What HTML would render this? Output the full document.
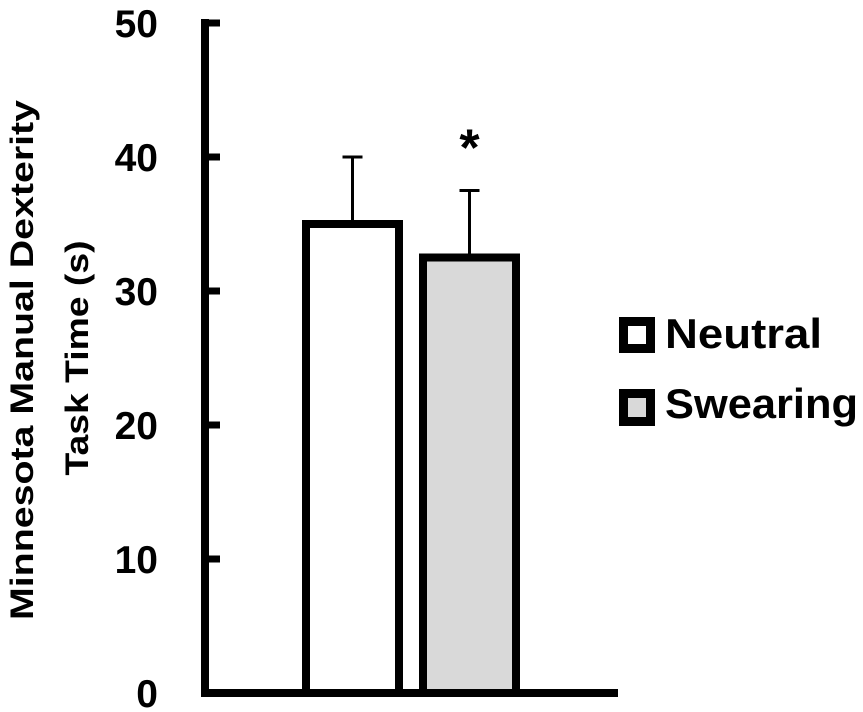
<!DOCTYPE html>
<html><head><meta charset="utf-8"><style>
html,body{margin:0;padding:0;background:#fff;}
svg{display:block;font-family:"Liberation Sans",sans-serif;font-weight:bold;}
</style></head><body>
<svg id="chart" width="863" height="712" viewBox="0 0 863 712" xmlns="http://www.w3.org/2000/svg">
<g id="ylabel">
<text x="33" y="360" transform="rotate(-90 33 360)" text-anchor="middle" font-size="32" textLength="520" lengthAdjust="spacingAndGlyphs">Minnesota Manual Dexterity</text>
<text x="88" y="358" transform="rotate(-90 88 358)" text-anchor="middle" font-size="32" textLength="235" lengthAdjust="spacingAndGlyphs">Task Time (s)</text>
</g>
<g id="ticks"></g>
<g id="bars"></g>
<g id="axes"></g>
<g id="legend">
<g>
<rect x="623.5" y="321.5" width="27" height="27" fill="#fff" stroke="#000" stroke-width="9"/>
<text x="665" y="348" font-size="42" textLength="157" lengthAdjust="spacingAndGlyphs">Neutral</text>
</g>
<g>
<rect x="623.5" y="393.5" width="27" height="28" fill="#d9d9d9" stroke="#000" stroke-width="9"/>
<text x="665" y="418" font-size="42" textLength="193" lengthAdjust="spacingAndGlyphs">Swearing</text>
</g>
</g>
</svg>
<script>
const categories = ["Neutral", "Swearing"];
const means = [35.0, 32.5];
const errors = [5.0, 5.0];
const fills = ["#ffffff", "#d9d9d9"];
const significant = [false, true];
const tickValues = [0, 10, 20, 30, 40, 50];
const tickLabels = ["0", "10", "20", "30", "40", "50"];

const NS = "http://www.w3.org/2000/svg";
const y0 = 693, yTop = 23, vMax = 50;
function yScale(v){ return y0 - (y0 - yTop) * v / vMax; }
const barLeft0 = 306, barStep = 117, barW = 93;
function xScale(i){ return barLeft0 + i * barStep; }
function mk(tag, attrs, parent){ const e = document.createElementNS(NS, tag); for (const k in attrs) e.setAttribute(k, attrs[k]); parent.appendChild(e); return e; }

const ticksG = document.getElementById('ticks');
tickValues.forEach((v, i) => {
  const y = yScale(v);
  const t = mk('text', {x: 158, y: y + 14, 'text-anchor': 'end', 'font-size': 39}, ticksG);
  
  
  t.textContent = tickLabels[i];
  const l = mk('line', {x1: 205, x2: 220, y1: y, y2: y, stroke: '#000', 'stroke-width': 7}, ticksG);
  
  
});

const barsG = document.getElementById('bars');
categories.forEach((c, i) => {
  const x = xScale(i), yT = yScale(means[i]);
  const eTop = yScale(means[i] + errors[i]);
  const cx = x + barW / 2;
  const eb = mk('line', {x1: cx, x2: cx, y1: yT, y2: eTop, stroke: '#000', 'stroke-width': 3}, barsG);
  
  
  const cap = mk('line', {x1: cx - 10, x2: cx + 10, y1: eTop, y2: eTop, stroke: '#000', 'stroke-width': 3}, barsG);
  
  
  const r = mk('rect', {x: x, y: yT, width: barW, height: y0 - yT, fill: fills[i], stroke: '#000', 'stroke-width': 8}, barsG);
  
  
  if (significant[i]) {
    const s = mk('text', {x: cx, y: eTop - 25, 'text-anchor': 'middle', 'font-size': 52}, barsG);
    
    
    s.textContent = '*';
  }
});

const axesG = document.getElementById('axes');
const ya = mk('line', {x1: 205, x2: 205, y1: 19, y2: 697, stroke: '#000', 'stroke-width': 8}, axesG);


const xa = mk('line', {x1: 201, x2: 618, y1: y0, y2: y0, stroke: '#000', 'stroke-width': 8}, axesG);


</script>
</body></html>
